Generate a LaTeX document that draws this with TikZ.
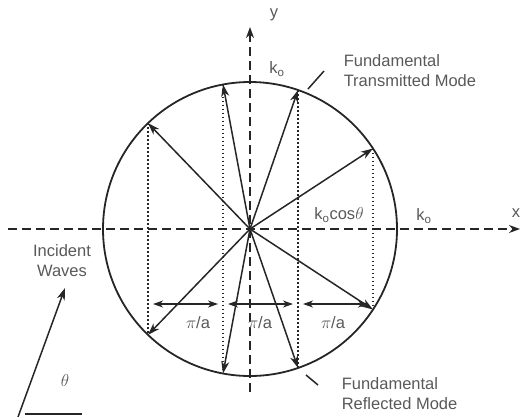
\documentclass[tikz,border=0pt]{standalone}
\usepackage{fontspec}
\setmainfont{Liberation Sans}
\usetikzlibrary{arrows.meta}

\begin{document}
\begin{tikzpicture}[x=1pt,y=-1pt,line width=1.5pt,draw=black!85,
  vec/.style={-{Stealth[length=12pt,width=8pt,inset=3.5pt]}},
  axis/.style={dash pattern=on 9pt off 5pt,-{Stealth[length=11pt,width=8pt,inset=3.5pt]}},
  drop/.style={dash pattern=on 1.6pt off 2.4pt,line width=1.5pt},
  dim/.style={{Stealth[length=10pt,width=7pt,inset=3pt]}-{Stealth[length=10pt,width=7pt,inset=3pt]}},
  lbl/.style={text=black!65,font=\fontsize{16.5}{20}\selectfont,inner sep=0pt,align=left}]
\useasboundingbox (0,0) rectangle (522,416);
\coordinate (O) at (250,229);
\draw[line width=1.8pt] (O) circle[radius=147pt];
\coordinate (xl) at (8,229); \coordinate (xr) at (520,229);
\coordinate (yb) at (250,392); \coordinate (yt) at (250,27);
\draw[axis] (xl) -- (xr);
\draw[axis] (yb) -- (yt);
\foreach \a [count=\i] in {133.94,100.58,70.94,33.2}{
   \path (O) ++(-\a:147) coordinate (u\i) (O) ++(\a:147) coordinate (d\i);
   \draw[drop] (u\i) -- (d\i);
   \draw[vec] (O) -- (u\i);
   \draw[vec] (O) -- (d\i);
}
\coordinate (dimy) at (0,304);
\foreach \i/\j/\x [count=\k] in %
{1/2/198,2/3/260,3/4/333} {
   \path (u\i |- dimy) coordinate (l\k) (u\j |- dimy) coordinate (r\k);
   \draw[dim] ([xshift=5pt]l\k) -- ([xshift=-5pt]r\k);
   \node[lbl] (pa\k) at (\x,323) {$\pi$/a};
}
\node[lbl] (ylab) at (274,15) {y};
\node[lbl] (xlab) at (516,213) {x};
\node[lbl] (kotop) at (277,69) {k\textsubscript{o}};
\node[lbl] (koright) at (424,216) {k\textsubscript{o}};
\node[lbl] (kocos) at (339,215) {k\textsubscript{o}cos$\theta$};
\node[lbl,anchor=west] (trans) at (343,71) {Fundamental\\Transmitted Mode};
\node[lbl,anchor=west] (refl) at (341,394) {Fundamental\\Reflected Mode};
\node[lbl,align=center] (inc) at (62,261) {Incident\\Waves};
\node[lbl] (th) at (65,380) {$\theta$};
\coordinate (tp1) at (308,89); \coordinate (tp2) at (324,71);
\coordinate (rp1) at (306,375); \coordinate (rp2) at (318,385);
\draw (tp1) -- (tp2);
\draw (rp1) -- (rp2);
\coordinate (ia) at (18,417); \coordinate (ib) at (65,288);
\coordinate (ha) at (25,414); \coordinate (hb) at (82,414);
\draw[vec] (ia) -- (ib);
\draw (ha) -- (hb);
\end{tikzpicture}
\end{document}
